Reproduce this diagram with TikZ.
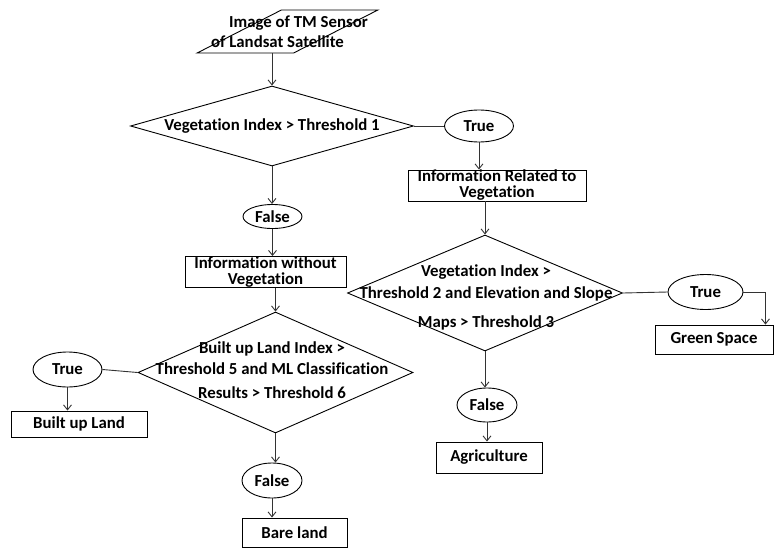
\documentclass[tikz,border=0pt]{standalone}
\usepackage{fontspec}
\setmainfont{Carlito}[Ligatures={NoCommon,NoRequired,NoContextual}]
\usepackage{tikz}
\usetikzlibrary{shapes.geometric}
\usetikzlibrary{arrows.meta}

\begin{document}
\begin{tikzpicture}[x=1pt,y=-1pt,
		>={Straight Barb[length=5pt,width=8pt]},
		every node/.style={font=\fontsize{16.8}{16}\selectfont\bfseries},
		box/.style={rectangle,draw,line width=0.9pt,inner sep=0pt,align=center},
		oval/.style={ellipse,draw,line width=0.9pt,inner sep=0pt},
		decision/.style={diamond,draw,line width=0.9pt,inner sep=1pt},
		lnk/.style={line width=0.9pt,draw=black!80}]
			
			\useasboundingbox (0,0) rectangle (774,549);
			
			% input image
			\node[trapezium,trapezium left angle=52.5,trapezium right angle=127.5,trapezium stretches=true,draw,line width=0.9pt,inner sep=1pt,minimum width=181pt,minimum height=43pt] (IMG) at (287.5,31.5) {\strut};
			\node[align=center] (IMGt) at (288,31.5) {\hspace*{21pt}Image of TM Sensor\\[4pt]of Landsat Satellite\hspace*{21pt}};
			
			% first test
			\node[decision,minimum width=283pt,minimum height=80pt] (D1) at (272,126) {};
			\node (D1t) at (D1) {Vegetation Index > Threshold 1};
			
			\node[oval,minimum width=69pt,minimum height=32pt] (T1) at (479,126) {True};
			\node[box,minimum width=178pt,minimum height=31pt] (IR) at (497,185.5) {Information Related to\\Vegetation};
			
			\node[oval,minimum width=59pt,minimum height=24pt] (F1) at (272.5,216.5) {False};
			\node[box,minimum width=161pt,minimum height=31pt] (IW) at (265.5,272) {Information without\\Vegetation};
			
			% vegetation test
			\node[decision,minimum width=275pt,minimum height=116pt] (D2) at (485,293) {};
			\node[align=center] (D2t) at (486,297.5) {Vegetation Index >\\[6pt]Threshold 2 and Elevation and Slope\\[13pt]Maps > Threshold 3};
			
			\node[oval,minimum width=75pt,minimum height=35pt] (T2) at (705.5,292) {True};
			\node[box,minimum width=118pt,minimum height=29pt] (GS) at (714,339.5) {Green Space};
			
			\node[oval,minimum width=60pt,minimum height=34pt] (F2) at (487,405) {False};
			\node[box,minimum width=106pt,minimum height=31pt] (AG) at (489,457.5) {Agriculture};
			
			% built up test
			\node[decision,minimum width=275pt,minimum height=121pt] (D3) at (275.5,372.5) {};
			\node[align=center] (D3t) at (272,370.5) {Built up Land Index >\\[5pt]Threshold 5 and ML Classification\\[8pt]Results > Threshold 6};
			
			\node[oval,minimum width=69pt,minimum height=35pt] (T3) at (67.5,369.5) {True};
			\node[box,minimum width=136pt,minimum height=26pt] (BL) at (79,424) {Built up Land};
			
			\node[oval,minimum width=60pt,minimum height=35pt] (F3) at (272,480.5) {False};
			\node[box,minimum width=105pt,minimum height=29pt] (BA) at (294.5,532.5) {Bare land};
			
			\draw[lnk,->] (IMG.south -| D1.north) -- (D1.north);
			\draw[lnk] (D1.east) -- (T1.west);
			\draw[lnk,->] (T1.south) -- (T1.south |- IR.north);
			\draw[lnk,->] (D2.north |- IR.south) -- (D2.north);
			\draw[lnk] (D2.east) -- (T2.west);
			\draw[lnk,->] (T2.east) -| ([xshift=-8pt]GS.north east);
			\draw[lnk,->] (D2.south) -- (D2.south |- F2.north);
			\draw[lnk,->] (F2.south) -- (F2.south |- AG.north);
			
			\draw[lnk,->] (D1.south) -- (D1.south |- F1.north);
			\draw[lnk,->] (F1.south) -- (F1.south |- IW.north);
			\draw[lnk,->] (IW.south -| D3.north) -- (D3.north);
			\draw[lnk] (D3.west) -- (T3.east);
			\draw[lnk,->] (T3.south) -- (T3.south |- BL.north);
			\draw[lnk,->] (D3.south) -- (D3.south |- F3.north);
			\draw[lnk,->] (F3.south) -- (F3.south |- BA.north);
			
		\end{tikzpicture}
\end{document}
